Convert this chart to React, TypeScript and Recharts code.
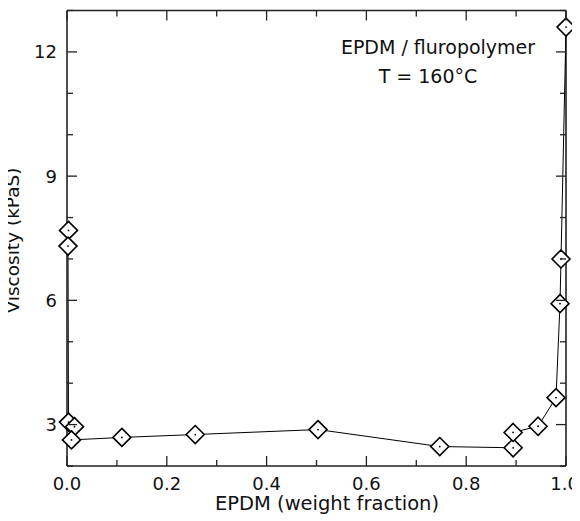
import React from "react";
import { LineChart, Line, XAxis, YAxis, ReferenceLine } from "recharts";

// EPDM weight fraction and melt viscosity (kPaS), in plotting order
const fractions = [0.003, 0.002, 0.003, 0.015, 0.009, 0.11, 0.257, 0.503, 0.747, 0.894, 0.894, 0.944, 0.98, 0.988, 0.99, 1.0];
const viscosities = [7.69, 7.31, 3.06, 2.95, 2.63, 2.69, 2.76, 2.88, 2.47, 2.44, 2.81, 2.96, 3.65, 5.92, 7.0, 12.6];

const xTicks = [0, 0.1, 0.2, 0.3, 0.4, 0.5, 0.6, 0.7, 0.8, 0.9, 1.0];
const xLabels = [0, 0.2, 0.4, 0.6, 0.8, 1.0];
const yTicks = [2, 3, 4, 5, 6, 7, 8, 9, 10, 11, 12, 13];
const yLabels = [3, 6, 9, 12];

// chart is pulled over the body margin so svg coords == page coords
const W = 580;
const H = 521;
const LEFT = 67;
const TOP = 10.5;
const RIGHT = 566;
const BOTTOM = 466;
const FONT = "DejaVu Sans";

const data = fractions.map((f, i) => ({ x: f, y: viscosities[i] }));

const XTick = (props: any) => {
  const { x, payload } = props;
  const v = payload.value;
  const major = xLabels.some((m) => Math.abs(m - v) < 1e-6);
  const len = major ? 10 : 6;
  const last = Math.abs(v - 1) < 1e-6;
  return (
    <g>
      <line x1={x} x2={x} y1={BOTTOM} y2={BOTTOM - len} stroke="#222" strokeWidth={1.3} />
      <line x1={x} x2={x} y1={TOP} y2={TOP + len} stroke="#222" strokeWidth={1.3} />
      {major && (
        <text
          x={last ? x + 13 : x}
          y={BOTTOM + 24}
          textAnchor={last ? "end" : "middle"}
          fontFamily={FONT}
          fontSize={18}
          fill="#111"
        >
          {v.toFixed(1)}
        </text>
      )}
    </g>
  );
};

const YTick = (props: any) => {
  const { y, payload } = props;
  const v = payload.value;
  const major = yLabels.includes(v);
  const len = major ? 10 : 6;
  return (
    <g>
      <line x1={LEFT} x2={LEFT + len} y1={y} y2={y} stroke="#222" strokeWidth={1.3} />
      <line x1={RIGHT} x2={RIGHT - len} y1={y} y2={y} stroke="#222" strokeWidth={1.3} />
      {major && (
        <text x={LEFT - 10} y={y + 6.5} textAnchor="end" fontFamily={FONT} fontSize={18} fill="#111">
          {v}
        </text>
      )}
    </g>
  );
};

const XTitle = () => (
  <text x={327} y={510} textAnchor="middle" fontFamily={FONT} fontSize={19.5} fill="#111">
    EPDM (weight fraction)
  </text>
);

const YTitle = () => (
  <text
    x={18.5}
    y={240.5}
    transform="rotate(-90, 18.5, 240.5)"
    textAnchor="middle"
    fontFamily={FONT}
    fontSize={18.5}
    fill="#111"
  >
    Viscosity (kPaS)
  </text>
);

const Note = () => (
  <g fontFamily={FONT} fontSize={19} fill="#111" textAnchor="middle">
    <text x={438} y={54}>EPDM / fluropolymer</text>
    <text x={428} y={83}>T = 160°C</text>
  </g>
);

const Diamond = (props: any) => {
  const { cx, cy, index } = props;
  if (cx == null || cy == null) return null;
  const r = 9;
  return (
    <g key={`d-${index}`}>
      <polygon
        points={`${cx},${cy - r} ${cx + r},${cy} ${cx},${cy + r} ${cx - r},${cy}`}
        fill="#fff"
        stroke="#000"
        strokeWidth={1.6}
      />
      <circle cx={cx} cy={cy} r={0.9} fill="#000" />
    </g>
  );
};

const App: React.FC = () => {
  return (
    <div style={{ marginLeft: -8, marginTop: -8, width: W, height: H }}>
      <LineChart width={W} height={H} data={data} margin={{ top: TOP, right: W - RIGHT, left: 0, bottom: 0 }}>
        <XAxis
          type="number"
          dataKey="x"
          domain={[0, 1]}
          ticks={xTicks}
          interval={0}
          height={H - BOTTOM}
          tick={<XTick />}
          tickLine={false}
          axisLine={{ stroke: "#222", strokeWidth: 1.6 }}
          label={<XTitle />}
        />
        <YAxis
          type="number"
          dataKey="y"
          domain={[2, 13]}
          ticks={yTicks}
          interval={0}
          width={LEFT}
          tick={<YTick />}
          tickLine={false}
          axisLine={{ stroke: "#222", strokeWidth: 1.6 }}
          label={<YTitle />}
        />
        <ReferenceLine y={13} stroke="#222" strokeWidth={1.6} label={<Note />} />
        <ReferenceLine x={1} stroke="#222" strokeWidth={1.6} />
        <Line
          type="linear"
          dataKey="y"
          stroke="#000"
          strokeWidth={1}
          dot={<Diamond />}
          activeDot={false}
          isAnimationActive={false}
        />
      </LineChart>
    </div>
  );
};

export default App;
